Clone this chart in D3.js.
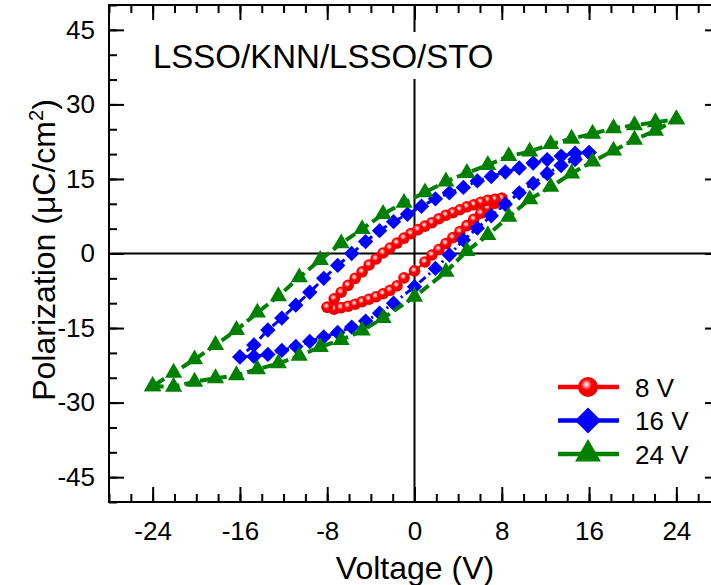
<!DOCTYPE html>
<html>
<head>
<meta charset="utf-8">
<script src="https://cdn.jsdelivr.net/npm/d3@7"></script>
<style>
    body {margin:0; background:white;}
    text {font-family: Arial, "Liberation Sans", sans-serif; fill:black;}
</style>
</head>
<body>
<svg id="graph1"></svg>
<script>
// 8 V loop, lower branch (-8 -> 8) and upper branch (8 -> -8)
var volt8Low = [-8,-7.36,-6.72,-6.08,-5.44,-4.8,-4.16,-3.52,-2.88,-2.24,-1.6,-0.96,0,0.96,1.6,2.24,2.88,3.52,4.16,4.8,5.44,6.08,6.72,7.36,8];
var pol8Low  = [-10.8,-11.2,-10.9,-10.6,-10.2,-9.7,-9.2,-8.7,-8.1,-7.4,-6.5,-4.9,-3.5,-1.7,-0.3,0.8,2.0,3.2,4.4,5.6,6.9,8.1,9.2,10.1,11.1];
var volt8Up  = [8,7.36,6.72,6.08,5.44,4.8,4.16,3.52,2.88,2.24,1.6,0.96,0.32,-0.32,-0.96,-1.6,-2.24,-2.88,-3.52,-4.16,-4.8,-5.44,-6.08,-6.72,-7.36,-8];
var pol8Up   = [11.1,10.9,10.7,10.3,9.8,9.4,8.8,8.2,7.7,7.0,6.2,5.5,4.8,4.0,3.1,2.1,1.1,0.1,-1.1,-2.3,-3.7,-5.0,-6.4,-7.8,-9.1,-10.8];

// 16 V loop
var volt16Low = [-16,-14.72,-13.44,-12.16,-10.88,-9.6,-8.32,-7.04,-5.76,-4.48,-3.2,-1.92,0,1.92,3.2,4.48,5.76,7.04,8.32,9.6,10.88,12.16,13.44,14.72,16];
var pol16Low  = [-20.8,-20.7,-20.3,-19.5,-18.7,-17.7,-16.8,-15.9,-14.8,-13.6,-12.0,-10.0,-6.7,-3.0,-0.3,2.7,5.1,7.6,9.9,12.2,14.1,16.1,17.7,18.9,20.3];
var volt16Up  = [16,14.72,13.44,12.16,10.88,9.6,8.32,7.04,5.76,4.48,3.2,1.92,0.64,-0.64,-1.92,-3.2,-4.48,-5.76,-7.04,-8.32,-9.6,-10.88,-12.16,-13.44,-14.72,-16];
var pol16Up   = [20.3,20.2,19.6,18.9,18.2,17.2,16.4,15.5,14.6,13.3,12.2,11.0,9.5,7.9,6.4,4.6,2.4,0.0,-2.4,-5.0,-7.8,-10.4,-13.0,-15.4,-18.4,-20.8];

// 24 V loop
var volt24Low = [-24,-22.08,-20.16,-18.24,-16.32,-14.4,-12.48,-10.56,-8.64,-6.72,-4.8,-2.88,0,2.88,4.8,6.72,8.64,10.56,12.48,14.4,16.32,18.24,20.16,22.08,24];
var pol24Low  = [-26.7,-26.8,-25.8,-25.1,-24.5,-23.3,-22.1,-20.6,-18.8,-17.4,-15.5,-13.0,-8.7,-3.7,0.5,3.7,7.4,10.9,13.4,16.1,18.5,20.7,22.9,24.7,27.0];
var volt24Up  = [24,22.08,20.16,18.24,16.32,14.4,12.48,10.56,8.64,6.72,4.8,2.88,0.96,-0.96,-2.88,-4.8,-6.72,-8.64,-10.56,-12.48,-14.4,-16.32,-18.24,-20.16,-22.08,-24];
var pol24Up   = [27.0,26.4,25.8,25.2,24.1,23.1,22.0,20.5,19.6,17.8,16.2,14.5,12.3,10.2,7.95,4.9,2.05,-1.3,-4.8,-8.6,-11.9,-15.4,-18.4,-21.3,-24.0,-26.7];

var seriesNames = ["8 V","16 V","24 V"];
var xTicks = [-24,-16,-8,0,8,16,24];
var yTicks = [-45,-30,-15,0,15,30,45];

var makePoints = function(v,p)
{
    return v.map(function(d,i){ return {V:d, P:p[i]}; });
}

var loops = [
    {name:seriesNames[0], low:makePoints(volt8Low,pol8Low),   up:makePoints(volt8Up,pol8Up),   color:"#ff0000", marker:"circle",  dash:null,       width:2},
    {name:seriesNames[1], low:makePoints(volt16Low,pol16Low), up:makePoints(volt16Up,pol16Up), color:"#0000ff", marker:"diamond", dash:"8,4,2,4",  width:3},
    {name:seriesNames[2], low:makePoints(volt24Low,pol24Low), up:makePoints(volt24Up,pol24Up), color:"#008000", marker:"triangle",dash:"11,5",     width:4}
];

var drawMarker = function(sel, marker, color, big)
{
    if(marker=="circle")
    {
        sel.append("circle")
            .attr("r", big ? 10 : 5.8)
            .attr("fill","url(#redball)")
    }
    else if(marker=="diamond")
    {
        sel.append("path")
            .attr("d", d3.symbol().type(d3.symbolSquare).size(big ? 340 : 118)())
            .attr("transform","rotate(45)")
            .attr("fill",color)
    }
    else
    {
        sel.append("path")
            .attr("d", d3.symbol().type(d3.symbolTriangle).size(big ? 290 : 128)())
            .attr("fill",color)
    }
}

var firstgraph = function(target)
{
    var screen = {width:711, height:585};
    var plot = {left:109, right:720, top:5, bottom:502};

    var svg = d3.select(target)
        .attr("width",screen.width)
        .attr("height",screen.height)

    var grad = svg.append("defs").append("radialGradient")
        .attr("id","redball")
        .attr("cx","0.42").attr("cy","0.38").attr("r","0.6")
    grad.append("stop").attr("offset","0").attr("stop-color","#ffffff")
    grad.append("stop").attr("offset","0.15").attr("stop-color","#ffb4b4")
    grad.append("stop").attr("offset","0.45").attr("stop-color","#ff0000")
    grad.append("stop").attr("offset","1").attr("stop-color","#e80000")

    var xScale = d3.scaleLinear().domain([-28,28]).range([plot.left,plot.right]);
    var yScale = d3.scaleLinear().domain([-50,50]).range([plot.bottom,plot.top]);

    //zero lines
    svg.append("line")
        .attr("x1",xScale(0)).attr("x2",xScale(0))
        .attr("y1",plot.top).attr("y2",plot.bottom)
        .attr("stroke","black").attr("stroke-width",2)
    svg.append("line")
        .attr("x1",plot.left).attr("x2",plot.right)
        .attr("y1",yScale(0)).attr("y2",yScale(0))
        .attr("stroke","black").attr("stroke-width",2)

    //sample label with white box over the zero line
    var title = svg.append("g")
    var titleText = title.append("text")
        .attr("x",153).attr("y",68)
        .style("font-size","33px")
        .text("LSSO/KNN/LSSO/STO")
    var bb = titleText.node().getBBox();
    title.insert("rect","text")
        .attr("x",bb.x-6).attr("y",bb.y-6)
        .attr("width",bb.width+12).attr("height",bb.height+10)
        .attr("fill","white")

    //axes
    var minorX = d3.range(-28,29,2);
    var minorY = d3.range(-50,51,5);
    var plainFormat = function(d){ return String(d); };

    var addAxis = function(axis, tr, labels)
    {
        var g = svg.append("g").attr("transform",tr).call(axis)
        g.select(".domain").remove()
        g.selectAll("line").attr("stroke","black").attr("stroke-width",2)
        if(!labels) g.selectAll("text").remove()
        else g.selectAll("text").style("font-size","26px").attr("fill","black").style("font-family","Arial, 'Liberation Sans', sans-serif")
    }

    addAxis(d3.axisBottom(xScale).tickValues(minorX).tickSize(-8), "translate(0,"+plot.bottom+")", false)
    addAxis(d3.axisBottom(xScale).tickValues(xTicks).tickSize(-15).tickPadding(20).tickFormat(plainFormat), "translate(0,"+plot.bottom+")", true)
    addAxis(d3.axisTop(xScale).tickValues(minorX).tickSize(-8), "translate(0,"+plot.top+")", false)
    addAxis(d3.axisTop(xScale).tickValues(xTicks).tickSize(-15), "translate(0,"+plot.top+")", false)
    addAxis(d3.axisLeft(yScale).tickValues(minorY).tickSize(-8), "translate("+plot.left+",0)", false)
    addAxis(d3.axisLeft(yScale).tickValues(yTicks).tickSize(-15).tickPadding(14).tickFormat(plainFormat), "translate("+plot.left+",0)", true)
    addAxis(d3.axisRight(yScale).tickValues(minorY).tickSize(-8), "translate("+plot.right+",0)", false)
    addAxis(d3.axisRight(yScale).tickValues(yTicks).tickSize(-15), "translate("+plot.right+",0)", false)

    //frame
    svg.append("rect")
        .attr("x",plot.left).attr("y",plot.top)
        .attr("width",plot.right-plot.left).attr("height",plot.bottom-plot.top)
        .attr("fill","none").attr("stroke","black").attr("stroke-width",2)

    //loops
    var lineGenerator = d3.line()
        .x(function(d){ return xScale(d.V); })
        .y(function(d){ return yScale(d.P); })

    loops.forEach(function(s)
    {
        var pts = s.low.concat(s.up.slice(1));
        var g = svg.append("g").classed("series",true)
        g.append("path")
            .datum(pts)
            .attr("d",lineGenerator)
            .attr("fill","none")
            .attr("stroke",s.color)
            .attr("stroke-width",s.width)
            .attr("stroke-dasharray",s.dash)
        g.selectAll(".pt")
            .data(s.low.concat(s.up))
            .enter()
            .append("g")
            .classed("pt",true)
            .attr("transform",function(d){ return "translate("+xScale(d.V)+","+yScale(d.P)+")"; })
            .each(function(){ drawMarker(d3.select(this), s.marker, s.color, false); })
    })

    //legend
    var legend = svg.append("g")
    loops.forEach(function(s,i)
    {
        var row = legend.append("g").attr("transform","translate(0,"+(387+i*33.5)+")")
        row.append("line")
            .attr("x1",558).attr("x2",619)
            .attr("stroke",s.color).attr("stroke-width",4.5)
        drawMarker(row.append("g").attr("transform","translate(588,0)"), s.marker, s.color, true)
        row.append("text")
            .attr("x",635).attr("y",9.5)
            .style("font-size","26px")
            .text(s.name)
    })

    //axis titles
    svg.append("text")
        .attr("x",415).attr("y",579)
        .attr("text-anchor","middle")
        .style("font-size","32px")
        .text("Voltage (V)")

    var yl = svg.append("text")
        .attr("transform","translate(55,250) rotate(-90)")
        .attr("text-anchor","middle")
        .style("font-size","32px")
    yl.append("tspan").text("Polarization (μC/cm")
    yl.append("tspan").attr("dy",-12).style("font-size","20px").text("2")
    yl.append("tspan").attr("dy",12).text(")")
}

firstgraph("#graph1");
</script>
</body>
</html>
